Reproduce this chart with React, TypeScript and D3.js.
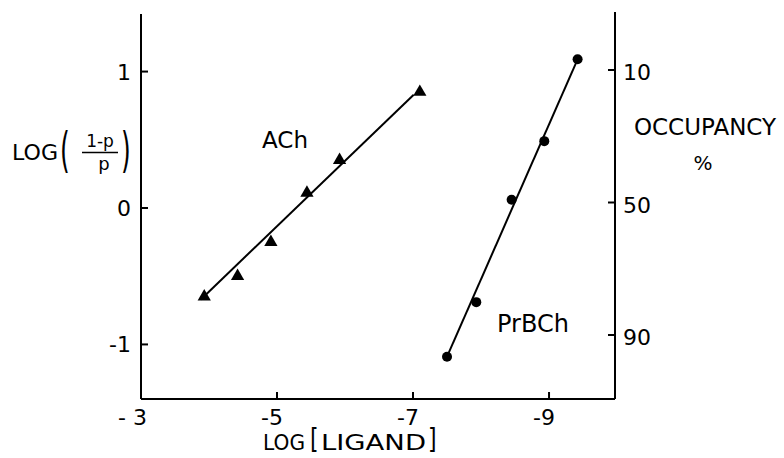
import React from 'react';
import * as d3 from 'd3';

const W = 784;
const H = 458;

// Axis ticks
const xTickValues = [-3, -5, -7, -9];
const xTickLabels = ['- 3', '-5', '-7', '-9'];
const yTickValues = [1, 0, -1];
const yTickLabels = ['1', '0', '-1'];
const occTickValues = [10, 50, 90];
const occTickLabels = ['10', '50', '90'];

// ACh (triangles)
const achX = [-3.93, -4.42, -4.91, -5.44, -5.92, -7.1];
const achY = [-0.65, -0.5, -0.25, 0.11, 0.35, 0.85];
const achLineX = [-3.88, -7.01];
const achLineY = [-0.67, 0.83];

// PrBCh (circles)
const prbchX = [-7.5, -7.93, -8.45, -8.93, -9.42];
const prbchY = [-1.09, -0.69, 0.06, 0.49, 1.09];
const prbchLineX = [-7.5, -9.42];
const prbchLineY = [-1.09, 1.09];

const FONT = 'DejaVu Sans';

export default function App() {
  const x = d3.scaleLinear().domain([-3, -9.97]).range([141, 615]);
  const y = d3.scaleLinear().domain([-1.4, 1.4]).range([399, 17]);
  const occ = d3.scaleLinear().domain([10, 90]).range([70, 335]);

  const [x0, x1] = x.range();
  const yBottom = y.range()[0];
  const yTop = y.range()[1];

  const line = d3
    .line<[number, number]>()
    .x((d) => x(d[0]))
    .y((d) => y(d[1]));

  const achLine = line(achLineX.map((v, i) => [v, achLineY[i]] as [number, number])) || '';
  const prLine = line(prbchLineX.map((v, i) => [v, prbchLineY[i]] as [number, number])) || '';
  const tri = d3.symbol(d3.symbolTriangle, 76)() || '';

  const tickLen = 7;

  return (
    <svg
      width={W}
      height={H}
      style={{ position: 'absolute', left: 0, top: 0, background: '#fff' }}
      fontFamily={FONT}
    >
      <rect x={0} y={0} width={W} height={H} fill="#fff" />
      {/* axes */}
      <g stroke="#000" strokeWidth={2} fill="none">
        <line x1={x0} y1={yTop - 3} x2={x0} y2={yBottom} />
        <line x1={x1} y1={yTop - 5} x2={x1} y2={yBottom} />
        <line x1={x0} y1={yBottom} x2={x1} y2={yBottom} />
        {yTickValues.map((v) => (
          <line key={'yt' + v} x1={x0} x2={x0 + tickLen} y1={y(v)} y2={y(v)} />
        ))}
        {occTickValues.map((v) => (
          <line key={'ot' + v} x1={x1} x2={x1 - tickLen} y1={occ(v)} y2={occ(v)} />
        ))}
        {xTickValues
          .filter((v) => v !== -3)
          .map((v) => (
            <line key={'xt' + v} x1={x(v)} x2={x(v)} y1={yBottom} y2={yBottom - tickLen} />
          ))}
      </g>

      {/* tick labels */}
      <g fontSize={22} fill="#000">
        {yTickValues.map((v, i) => (
          <text key={'yl' + v} x={x0 - 10} y={y(v) + 8} textAnchor="end">
            {yTickLabels[i]}
          </text>
        ))}
        {occTickValues.map((v, i) => (
          <text key={'ol' + v} x={x1 + 8} y={occ(v) + 10} textAnchor="start">
            {occTickLabels[i]}
          </text>
        ))}
        {xTickValues.map((v, i) => (
          <text key={'xl' + v} x={x(v) + 6} y={yBottom + 26} textAnchor="end">
            {xTickLabels[i]}
          </text>
        ))}
      </g>

      {/* data lines */}
      <path d={achLine} stroke="#000" strokeWidth={2} fill="none" />
      <path d={prLine} stroke="#000" strokeWidth={2} fill="none" />

      {/* markers */}
      {achX.map((v, i) => (
        <path key={'a' + i} d={tri} transform={`translate(${x(v)},${y(achY[i])})`} fill="#000" />
      ))}
      {prbchX.map((v, i) => (
        <circle key={'p' + i} cx={x(v)} cy={y(prbchY[i])} r={5} fill="#000" />
      ))}

      {/* series labels */}
      <text x={262} y={148} fontSize={23}>ACh</text>
      <text x={497} y={332} fontSize={24}>PrBCh</text>

      {/* right axis title */}
      <text x={705} y={135} fontSize={23} textAnchor="middle">OCCUPANCY</text>
      <text x={703} y={170} fontSize={20} textAnchor="middle">%</text>

      {/* left axis title: LOG((1-p)/p) */}
      <text x={12} y={160} fontSize={22} textLength={46} lengthAdjust="spacingAndGlyphs">LOG</text>
      <text transform="translate(60,167) scale(1,1.9)" fontSize={25}>(</text>
      <text x={100} y={147} fontSize={17} textAnchor="middle">1-p</text>
      <line x1={82} x2={118} y1={152.5} y2={152.5} stroke="#000" strokeWidth={1.6} />
      <text x={104} y={170} fontSize={18} textAnchor="middle">p</text>
      <text transform="translate(121,167) scale(1,1.9)" fontSize={25}>)</text>

      {/* bottom axis title: LOG [LIGAND] */}
      <text x={263} y={450} fontSize={22} textLength={42} lengthAdjust="spacingAndGlyphs">LOG</text>
      <text transform="translate(310,449) scale(1,1.3)" fontSize={22}>[</text>
      <text x={321} y={450} fontSize={22} textLength={105} lengthAdjust="spacingAndGlyphs">LIGAND</text>
      <text transform="translate(428,449) scale(1,1.3)" fontSize={22}>]</text>
    </svg>
  );
}
